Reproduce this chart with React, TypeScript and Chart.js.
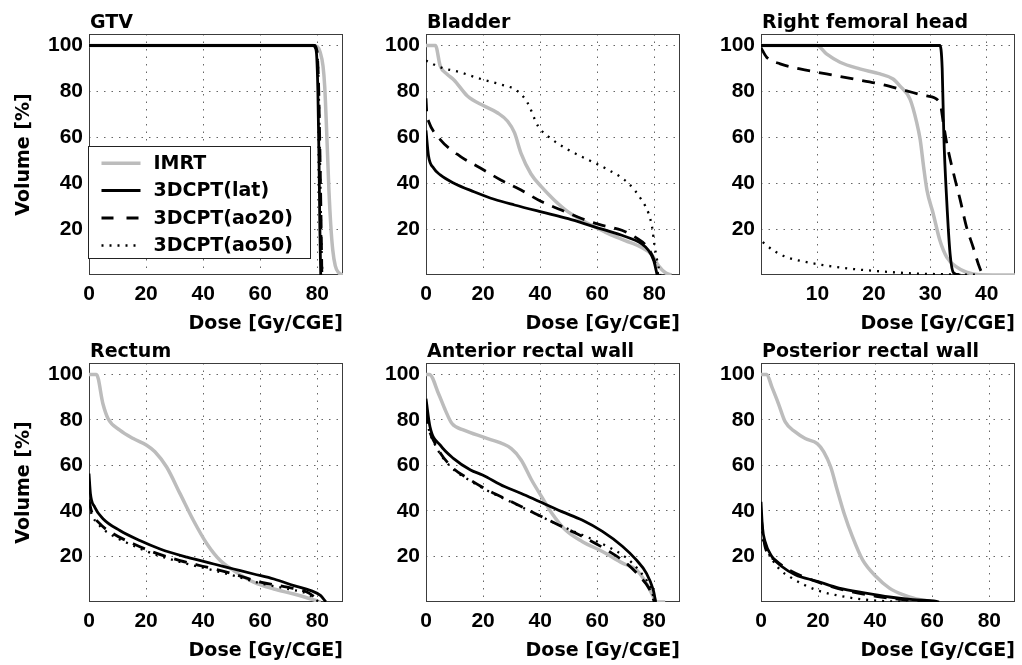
import React, { useEffect, useRef } from 'react';
import { Chart, registerables } from 'chart.js';

Chart.register(...registerables);

type Pt = [number, number];

// ---------- labels & ticks ----------
const seriesLabels = ['IMRT', '3DCPT(lat)', '3DCPT(ao20)', '3DCPT(ao50)'];
const yTickValues = [20, 40, 60, 80, 100];
const xTickValues = [0, 20, 40, 60, 80];
const xTickValuesFemoral = [10, 20, 30, 40];
const yMax = 105;
const xMaxDefault = 89;
const xMaxFemoral = 45;
const xAxisTitle = 'Dose [Gy/CGE]';
const yAxisTitle = 'Volume [%]';
const panelTitles = ['GTV', 'Bladder', 'Right femoral head', 'Rectum', 'Anterior rectal wall', 'Posterior rectal wall'];

// ---------- GTV ----------
const gtvImrt: Pt[] = [[0, 100], [78.5, 100], [80, 99.5], [81, 97], [82, 91], [82.6, 82], [83.1, 68], [83.6, 52], [84.1, 36], [84.7, 22], [85.4, 11], [86.3, 4], [87.5, 1], [89, 0]];
const gtvLat: Pt[] = [[0, 100], [78.5, 100], [79.3, 99], [79.8, 95], [80.2, 80], [80.6, 50], [80.9, 20], [81.2, 0]];
const gtvAo20: Pt[] = [[0, 100], [79, 100], [79.8, 98], [80.4, 85], [80.9, 55], [81.3, 25], [81.6, 0]];
const gtvAo50: Pt[] = [[0, 100], [79, 100], [80, 97], [80.5, 80], [81, 45], [81.4, 15], [81.8, 0]];

// ---------- Bladder ----------
const bladderImrt: Pt[] = [[0, 100], [3.3, 100], [5, 91], [7.4, 87.5], [9.8, 85], [14.5, 78], [20.4, 73.6], [25, 70.7], [28.6, 67], [31, 62], [33.3, 53], [36.8, 44], [40.4, 38.5], [45, 32.6], [49.8, 27.5], [54.5, 24], [59, 21], [63.9, 18], [69.8, 15], [75.6, 12], [79, 9], [81.5, 4], [83.9, 1], [86, 0]];
const bladderLat: Pt[] = [[0, 63], [0.9, 51.7], [2.7, 46.5], [5, 43.6], [9.8, 40], [16.8, 36.3], [23.9, 33], [31, 30.5], [40.4, 27.5], [49.8, 24.6], [59, 21], [68.6, 17.3], [75.6, 13.6], [78, 10.7], [79.8, 6.3], [81, 0]];
const bladderAo20: Pt[] = [[0, 77], [0.3, 70], [0.9, 67], [5, 59], [12, 51.7], [19.2, 46.5], [26.2, 41.4], [33.3, 37], [40.4, 32], [47.4, 28.3], [54.5, 24.6], [61.5, 21.7], [68.6, 19.5], [73.3, 16.5], [78, 11.4], [80.4, 4.8], [81.3, 0]];
const bladderAo50: Pt[] = [[0, 93.4], [5, 90.5], [12, 88.3], [19.2, 85.4], [26.2, 83], [32, 80.2], [35.6, 75], [39.2, 65], [42.7, 60.5], [49.8, 54.6], [56.8, 50.2], [63.9, 45.8], [70.9, 40], [75.6, 32.6], [78, 26.8], [79.2, 21], [80, 13.6], [81, 6.3], [82.1, 0]];

// ---------- Right femoral head ----------
const femImrt: Pt[] = [[0, 100], [9.9, 100], [11.6, 96.3], [14, 92.7], [17.5, 89.8], [21.1, 87.6], [23.4, 85.4], [24.6, 82.4], [26.4, 76.6], [27.6, 66.3], [28.2, 59], [28.8, 47.3], [29.4, 37], [30.5, 26.8], [31.7, 15], [32.9, 7.8], [34.7, 3.4], [36.4, 1.2], [38.8, 0.1], [45, 0]];
const femLat: Pt[] = [[0, 100], [31.7, 100], [32.1, 90], [32.4, 60], [32.9, 32.6], [33.5, 9.2], [34.1, 1], [35.3, 0]];
const femAo20: Pt[] = [[0, 99], [1, 94.9], [3.4, 92], [6.9, 89.8], [11.6, 87.6], [16.4, 85.4], [21.1, 83.2], [25.8, 80.2], [29.4, 78], [31.7, 75], [32.3, 66.3], [32.9, 57.5], [34.1, 44.4], [35.3, 32.6], [36.4, 21], [37.6, 12], [38.5, 4.8], [39.1, 1.2], [39.7, 0]];
const femAo50: Pt[] = [[0.3, 14.3], [2.2, 10.7], [4.5, 7.8], [8.1, 5.6], [11.6, 4.1], [16.4, 2.6], [21.1, 1.6], [27, 0.7], [32.9, 0.3], [38.8, 0.1]];

// ---------- Rectum ----------
const rectImrt: Pt[] = [[0, 100], [2.6, 100], [4.9, 87], [6.7, 80.5], [10.8, 75.5], [15.5, 71.8], [20.2, 68.9], [23.1, 66], [27.2, 59.3], [31.9, 47.6], [36.6, 35.8], [41.3, 25.6], [46, 18.2], [50.7, 13.8], [57.7, 8.7], [64.8, 5.7], [71.8, 3.5], [78.9, 0.9], [81.2, 0]];
const rectLat: Pt[] = [[0, 56.4], [0.5, 47.6], [2, 41.7], [4.9, 36.6], [10.8, 31.4], [17.8, 27], [24.9, 23.3], [34.3, 19.7], [43.7, 16.7], [50.7, 14.5], [57.7, 12.3], [64.8, 10.1], [71.8, 7.2], [77.7, 5], [81.2, 2.8], [83, 0]];
const rectAo20: Pt[] = [[0, 45], [0.8, 40.2], [3.8, 34.4], [8.5, 30], [15.5, 25.6], [22.5, 21.9], [31.9, 18.2], [41.3, 15.3], [50.7, 12.3], [60.1, 8.7], [69.5, 6.5], [76.5, 4.3], [80, 1.3], [81.2, 0]];
const rectAo50: Pt[] = [[0, 43], [0.8, 39], [3.8, 33.4], [8.5, 29], [15.5, 24.8], [22.5, 21.2], [31.9, 17.6], [41.3, 14.6], [50.7, 11.6], [60.1, 8.2], [69.5, 5.8], [76.5, 3.6], [79.5, 1], [80.5, 0]];

// ---------- Anterior rectal wall ----------
const antImrt: Pt[] = [[0, 100], [1.2, 100], [4.4, 91.5], [6.8, 84.2], [9.1, 78.4], [13.3, 75.5], [21.6, 71.8], [29.9, 67.4], [33.4, 62.3], [37, 53.6], [40.5, 46.3], [44.1, 39], [48.8, 31.7], [54.7, 26.6], [61.8, 22.2], [68.9, 17.1], [73.7, 14.2], [77.2, 8.3], [79.6, 2.5], [80.8, 0], [83.8, 0]];
const antLat: Pt[] = [[0, 89.3], [1.4, 77], [5, 68.9], [9.7, 63], [15.6, 58], [19.8, 55.8], [27.5, 50.7], [33.4, 47.7], [39.9, 44], [47.6, 39.7], [54.7, 36], [61.8, 31], [68.9, 24.4], [73.7, 18.5], [77.2, 12.7], [79.6, 5.4], [80.5, 0]];
const antAo20: Pt[] = [[0, 84], [0.5, 79], [3.2, 69.6], [8.5, 60], [15.6, 53.6], [21.6, 49.2], [28.7, 44.8], [35.8, 40.4], [42.9, 36], [50, 31.7], [57.1, 27.3], [64.2, 22.2], [70.1, 17.1], [74.9, 11.2], [78.4, 5.4], [80, 0]];
const antAo50: Pt[] = [[0, 83], [0.5, 78.5], [3.2, 69], [8.5, 59.6], [15.6, 53.2], [21.6, 48.9], [28.7, 44.6], [35.8, 40.3], [42.9, 36], [50, 32], [57.1, 28.2], [64.2, 24], [70.1, 19.5], [74.9, 13.5], [78.4, 7], [80.3, 0]];

// ---------- Posterior rectal wall ----------
const postImrt: Pt[] = [[0, 100], [2, 100], [3.8, 94.5], [6.1, 87.2], [8.5, 79.1], [12, 74.7], [15.5, 71.8], [19.7, 69.6], [22, 66], [24.4, 59.4], [26.7, 49.2], [29.1, 39], [32, 28.8], [35.6, 18.5], [40.3, 11.2], [45, 6.1], [49.7, 3.2], [54.4, 1.3], [59.1, 0.3], [60, 0]];
const postLat: Pt[] = [[0, 44], [0.5, 33], [1.4, 26.6], [3.8, 20], [7.3, 15.6], [12, 12], [19.7, 9.1], [27.3, 6.1], [36.7, 3.9], [45, 2.2], [53.2, 1], [61.5, 0.3], [62.4, 0]];
const postAo20: Pt[] = [[0, 37.5], [1.4, 24.4], [4.9, 18.5], [9.7, 14.2], [19.1, 9.1], [28.5, 5.4], [40.3, 2.5], [49.7, 1], [56.8, 0.3], [59, 0]];
const postAo50: Pt[] = [[0, 31], [0.8, 26.6], [2.6, 21.5], [6.1, 14.9], [10.8, 10.5], [19.1, 5.4], [28.5, 2.5], [36.7, 1], [45, 0.3], [51, 0]];

// ---------- styles ----------
const seriesColors = ['#bcbcbc', '#000000', '#000000', '#000000'];
const seriesWidths = [3.5, 2.8, 2.8, 2.3];
const seriesDashes: number[][] = [[], [], [13, 9], [2, 6]];
const seriesOrder = [10, 3, 2, 1];

const TEXT_FONT = '"DejaVu Sans", "Liberation Sans", Arial, sans-serif';
const TICK_FONT = '"Liberation Sans", Arial, sans-serif';

type Box = { left: number; top: number; width: number; height: number };
type Plot = { left: number; top: number; right: number; bottom: number };

interface PanelProps {
  title: string;
  series: Pt[][];
  xMax: number;
  xTicks: number[];
  canvas: Box;
  plot: Plot;
  yTitle: boolean;
  legend: boolean;
  xTitleBottomPad: number;
}

function Panel(p: PanelProps) {
  const ref = useRef<HTMLCanvasElement>(null);
  useEffect(() => {
    const el = ref.current;
    if (!el) return;
    const cb = p.canvas;
    const pb = p.plot;
    const yWidth = pb.left - cb.left;
    const xHeight = cb.top + cb.height - pb.bottom;
    const padTop = pb.top - cb.top;
    const padRight = cb.left + cb.width - pb.right;

    const deco = {
      id: 'deco',
      beforeDatasetsDraw(chart: any) {
        const { ctx, chartArea: a } = chart;
        ctx.save();
        ctx.strokeStyle = '#3c3c3c';
        ctx.lineWidth = 1;
        ctx.strokeRect(Math.round(a.left) + 0.5, Math.round(a.top) + 0.5, Math.round(a.right - a.left) - 1, Math.round(a.bottom - a.top) - 1);
        ctx.restore();
      },
      afterDraw(chart: any) {
        const { ctx, chartArea: a } = chart;
        ctx.save();
        ctx.fillStyle = '#000';
        ctx.font = `bold 19px ${TEXT_FONT}`;
        ctx.textAlign = 'left';
        ctx.textBaseline = 'alphabetic';
        ctx.fillText(p.title, a.left + 1, a.top - 6);
        if (p.legend) {
          const bx = Math.round(a.left) - 0.5;
          const by = Math.round(a.top) + 112.5;
          const bw = 222;
          const bh = 112;
          ctx.fillStyle = '#fff';
          ctx.fillRect(bx, by, bw, bh);
          ctx.strokeStyle = '#222';
          ctx.lineWidth = 1;
          ctx.strokeRect(bx, by, bw, bh);
          const rows = [16.7, 44, 71.5, 99];
          chart.data.datasets.forEach((ds: any, i: number) => {
            const cy = by + rows[i];
            ctx.save();
            ctx.strokeStyle = ds.borderColor;
            ctx.lineWidth = ds.borderWidth;
            ctx.setLineDash(i === 2 ? [12, 13] : i === 3 ? [2, 6] : []);
            ctx.beginPath();
            ctx.moveTo(bx + 13, cy);
            ctx.lineTo(bx + 52, cy);
            ctx.stroke();
            ctx.restore();
            ctx.fillStyle = '#000';
            ctx.font = `bold 19px ${TEXT_FONT}`;
            ctx.textBaseline = 'middle';
            ctx.fillText(ds.label, bx + 65, cy + 1);
          });
        }
        ctx.restore();
      },
    };

    const chart = new Chart(el, {
      type: 'scatter',
      data: {
        datasets: p.series.map((pts, i) => ({
          label: seriesLabels[i],
          data: pts.map(([x, y]) => ({ x, y })),
          showLine: true,
          borderColor: seriesColors[i],
          backgroundColor: seriesColors[i],
          borderWidth: seriesWidths[i],
          borderDash: seriesDashes[i],
          borderCapStyle: 'butt',
          borderJoinStyle: 'round',
          pointRadius: 0,
          pointHoverRadius: 0,
          cubicInterpolationMode: 'monotone',
          fill: false,
          order: seriesOrder[i],
        })),
      },
      options: {
        animation: false,
        responsive: false,
        devicePixelRatio: 1,
        events: [],
        layout: { padding: { top: padTop, right: padRight, bottom: 0, left: 0 } },
        plugins: { legend: { display: false }, tooltip: { enabled: false }, title: { display: false } },
        scales: {
          x: {
            type: 'linear',
            min: 0,
            max: p.xMax,
            afterBuildTicks: (s: any) => {
              s.ticks = p.xTicks.map((v) => ({ value: v }));
            },
            afterFit: (s: any) => {
              s.height = xHeight;
            },
            ticks: {
              color: '#000',
              font: { family: TICK_FONT, size: 21, weight: 'bold' },
              padding: 7,
              maxRotation: 0,
              autoSkip: false,
              callback: (v: any) => String(v),
            },
            grid: { color: '#666', lineWidth: 1, drawTicks: false },
            border: { display: false, dash: [1.5, 6] },
            title: {
              display: true,
              text: xAxisTitle,
              align: 'end',
              color: '#000',
              font: { family: TEXT_FONT, size: 19, weight: 'bold' },
              padding: { top: 0, bottom: p.xTitleBottomPad },
            },
          },
          y: {
            type: 'linear',
            min: 0,
            max: yMax,
            afterBuildTicks: (s: any) => {
              s.ticks = yTickValues.map((v) => ({ value: v }));
            },
            afterFit: (s: any) => {
              s.width = yWidth;
            },
            ticks: {
              color: '#000',
              font: { family: TICK_FONT, size: 21, weight: 'bold' },
              padding: 6,
              autoSkip: false,
              callback: (v: any) => String(v),
            },
            grid: { color: '#666', lineWidth: 1, drawTicks: false },
            border: { display: false, dash: [1.5, 6] },
            title: {
              display: p.yTitle,
              text: yAxisTitle,
              align: 'center',
              color: '#000',
              font: { family: TEXT_FONT, size: 19, weight: 'bold' },
              padding: { top: 13, bottom: 0 },
            },
          },
        },
      } as any,
      plugins: [deco],
    });
    return () => chart.destroy();
  }, []);
  const c = p.canvas;
  return (
    <canvas
      ref={ref}
      width={c.width}
      height={c.height}
      style={{ position: 'absolute', left: c.left, top: c.top, width: c.width, height: c.height }}
    />
  );
}

const colCanvas = [
  { left: 0, width: 351 },
  { left: 351, width: 337 },
  { left: 688, width: 334 },
];
const colPlot = [
  { left: 89, right: 343 },
  { left: 426, right: 680 },
  { left: 761, right: 1015 },
];
const rowCanvas = [
  { top: 0, height: 335 },
  { top: 335, height: 330 },
];
const rowPlot = [
  { top: 34, bottom: 275 },
  { top: 363, bottom: 602 },
];
const rowTitlePad = [0, 3];

const panelSeries: Pt[][][] = [
  [gtvImrt, gtvLat, gtvAo20, gtvAo50],
  [bladderImrt, bladderLat, bladderAo20, bladderAo50],
  [femImrt, femLat, femAo20, femAo50],
  [rectImrt, rectLat, rectAo20, rectAo50],
  [antImrt, antLat, antAo20, antAo50],
  [postImrt, postLat, postAo20, postAo50],
];

export default function App() {
  return (
    <div style={{ position: 'absolute', left: 0, top: 0, width: 1022, height: 665, background: '#fff', overflow: 'hidden' }}>
      {panelSeries.map((series, idx) => {
        const r = Math.floor(idx / 3);
        const c = idx % 3;
        const femoral = idx === 2;
        return (
          <Panel
            key={idx}
            title={panelTitles[idx]}
            series={series}
            xMax={femoral ? xMaxFemoral : xMaxDefault}
            xTicks={femoral ? xTickValuesFemoral : xTickValues}
            canvas={{ left: colCanvas[c].left, width: colCanvas[c].width, top: rowCanvas[r].top, height: rowCanvas[r].height }}
            plot={{ left: colPlot[c].left, right: colPlot[c].right, top: rowPlot[r].top, bottom: rowPlot[r].bottom }}
            yTitle={c === 0}
            legend={idx === 0}
            xTitleBottomPad={rowTitlePad[r]}
          />
        );
      })}
    </div>
  );
}
